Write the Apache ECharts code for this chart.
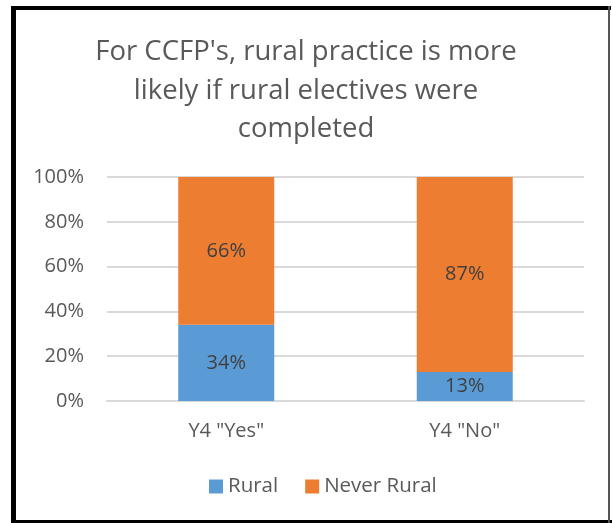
<!DOCTYPE html>
<html>
<head>
<meta charset="utf-8">
<script src="https://cdn.jsdelivr.net/npm/echarts@6/dist/echarts.min.js"></script>
<style>
html,body{margin:0;padding:0;background:#fff;}
#c{width:612px;height:523px;}
</style>
</head>
<body>
<div id="c"></div>
<script>
const categories = ['Y4 "Yes"', 'Y4 "No"'];
const rural = [34, 13];
const neverRural = [66, 87];
const seriesNames = ['Rural', 'Never Rural'];
const titleLines = ["For CCFP's, rural practice is more", 'likely if rural electives were', 'completed'];

const chart = echarts.init(document.getElementById('c'));
const font = 'Open Sans';
chart.setOption({
  animation: false,
  textStyle: { fontFamily: font },
  title: {
    text: titleLines.join('\n'),
    left: 'center',
    top: 28,
    textStyle: { fontFamily: font, fontSize: 27.5, fontWeight: 'normal', color: '#595959', lineHeight: 38.5 }
  },
  legend: {
    data: seriesNames,
    top: 471,
    left: 204,
    itemWidth: 14,
    itemHeight: 14,
    itemGap: 27,
    icon: 'rect',
    textStyle: { fontFamily: font, fontSize: 20.5, color: '#595959' }
  },
  grid: { left: 107, right: 28, top: 177, bottom: 122 },
  xAxis: {
    type: 'category',
    data: categories,
    axisLine: { show: true, lineStyle: { color: '#D9D9D9', width: 2 } },
    axisTick: { show: false },
    axisLabel: { fontFamily: font, fontSize: 20, color: '#595959', margin: 20 }
  },
  yAxis: {
    type: 'value',
    min: 0, max: 100, interval: 20,
    axisLine: { show: false },
    axisTick: { show: false },
    axisLabel: { fontFamily: font, fontSize: 20, color: '#595959', margin: 23, formatter: v => v + '%' },
    splitLine: { lineStyle: { color: '#D9D9D9', width: 2 } }
  },
  series: [
    {
      name: seriesNames[0], type: 'bar', stack: 's', data: rural, barWidth: 96,
      itemStyle: { color: '#5B9BD5' },
      label: { show: true, position: 'inside', formatter: '{c}%', fontFamily: font, fontSize: 20, color: '#404040' }
    },
    {
      name: seriesNames[1], type: 'bar', stack: 's', data: neverRural, barWidth: 96,
      itemStyle: { color: '#ED7D31' },
      label: { show: true, position: 'inside', formatter: '{c}%', fontFamily: font, fontSize: 20, color: '#404040' }
    }
  ],
  graphic: [
    { type: 'rect', shape: { x: 11, y: 6, width: 600, height: 4 }, style: { fill: '#000' } },
    { type: 'rect', shape: { x: 11, y: 6, width: 5, height: 517 }, style: { fill: '#000' } },
    { type: 'rect', shape: { x: 11, y: 520, width: 601, height: 3 }, style: { fill: '#000' } },
    { type: 'rect', shape: { x: 608, y: 6, width: 2, height: 517 }, style: { fill: '#555' } }
  ]
});
</script>
</body>
</html>
